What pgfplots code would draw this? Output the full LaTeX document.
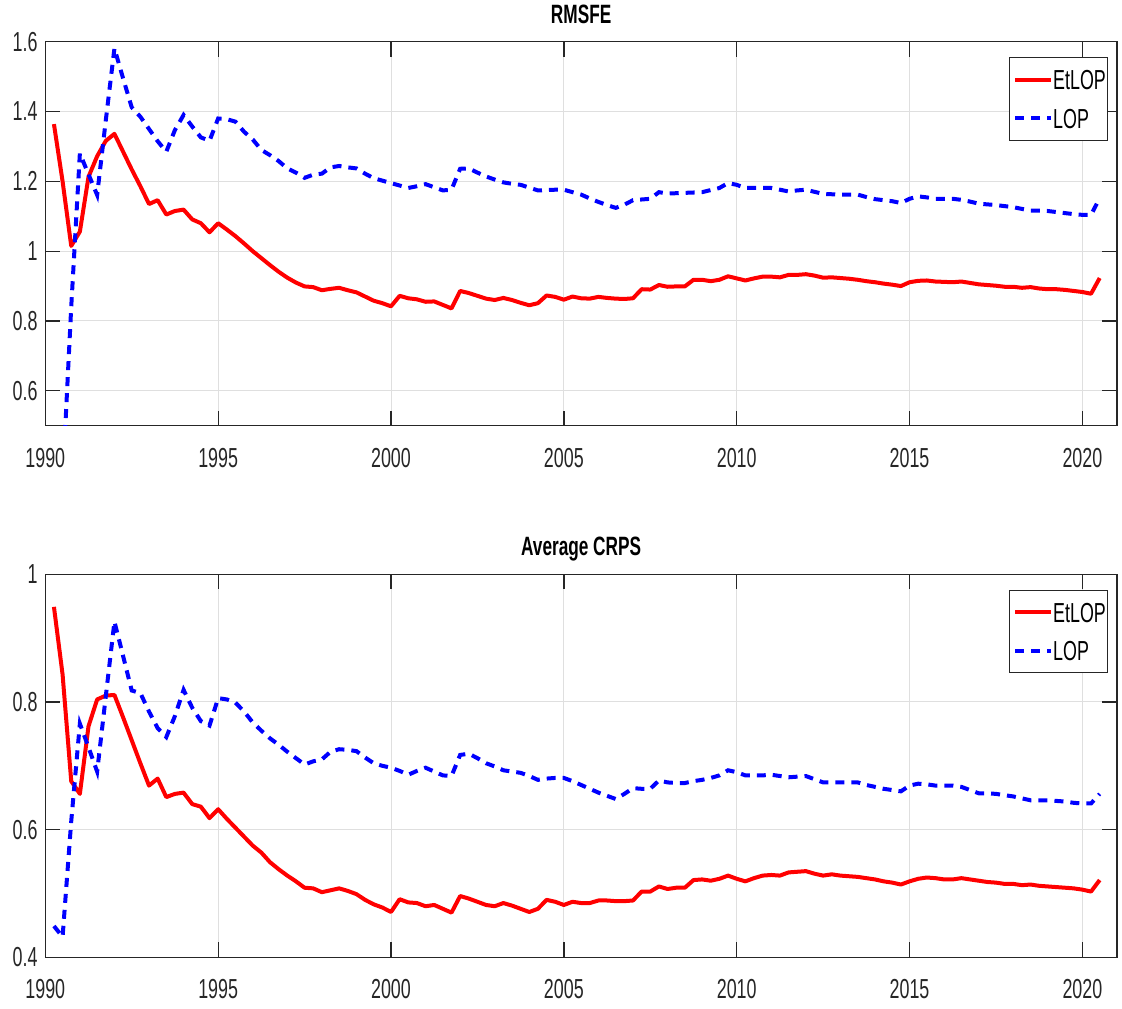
\documentclass[border=0pt]{standalone}
\usepackage{fontspec}
\setmainfont[FakeStretch=0.65]{Liberation Sans}
\usepackage{pgfplots}
\usepackage{pgfplotstable}
\pgfplotsset{compat=1.18}

\definecolor{axgray}{RGB}{38,38,38}
\definecolor{gridgray}{RGB}{223,223,223}

% quarterly scores: t, RMSFE EtLOP, RMSFE LOP, CRPS EtLOP, CRPS LOP
\pgfplotstableread{
t re rl ce cl
1990.25 1.364 0.300 0.949 0.449
1990.50 1.200 0.340 0.843 0.432
1990.75 1.015 0.840 0.676 0.613
1991.00 1.056 1.280 0.656 0.766
1991.25 1.213 1.220 0.762 0.729
1991.50 1.272 1.161 0.804 0.691
1991.75 1.316 1.375 0.810 0.809
1992.00 1.336 1.581 0.811 0.926
1992.25 1.285 1.495 0.776 0.872
1992.50 1.234 1.412 0.740 0.818
1992.75 1.186 1.385 0.704 0.814
1993.00 1.135 1.350 0.669 0.785
1993.25 1.146 1.315 0.680 0.759
1993.50 1.105 1.285 0.651 0.745
1993.75 1.115 1.347 0.656 0.778
1994.00 1.119 1.390 0.658 0.819
1994.25 1.091 1.357 0.640 0.791
1994.50 1.080 1.326 0.636 0.770
1994.75 1.054 1.316 0.618 0.763
1995.00 1.080 1.380 0.632 0.806
1995.25 1.062 1.378 0.617 0.804
1995.50 1.043 1.371 0.603 0.799
1995.75 1.022 1.342 0.589 0.785
1996.00 1.000 1.320 0.575 0.768
1996.25 0.980 1.290 0.564 0.755
1996.50 0.960 1.275 0.549 0.743
1996.75 0.941 1.258 0.538 0.733
1997.00 0.924 1.237 0.528 0.722
1997.25 0.910 1.225 0.519 0.712
1997.50 0.899 1.210 0.509 0.702
1997.75 0.897 1.219 0.508 0.707
1998.00 0.888 1.222 0.502 0.710
1998.25 0.892 1.240 0.505 0.722
1998.50 0.895 1.244 0.508 0.726
1998.75 0.888 1.240 0.504 0.725
1999.00 0.882 1.237 0.499 0.723
1999.25 0.870 1.222 0.490 0.713
1999.50 0.858 1.209 0.483 0.704
1999.75 0.851 1.202 0.478 0.700
2000.00 0.842 1.195 0.471 0.697
2000.25 0.872 1.188 0.491 0.692
2000.50 0.865 1.181 0.486 0.686
2000.75 0.862 1.186 0.485 0.692
2001.00 0.855 1.192 0.480 0.697
2001.25 0.856 1.183 0.482 0.691
2001.50 0.846 1.174 0.476 0.685
2001.75 0.836 1.176 0.470 0.684
2002.00 0.886 1.236 0.496 0.717
2002.25 0.880 1.237 0.492 0.719
2002.50 0.872 1.225 0.487 0.712
2002.75 0.864 1.214 0.482 0.704
2003.00 0.860 1.205 0.480 0.699
2003.25 0.866 1.197 0.485 0.693
2003.50 0.860 1.193 0.481 0.691
2003.75 0.852 1.190 0.476 0.689
2004.00 0.845 1.182 0.471 0.684
2004.25 0.851 1.174 0.476 0.678
2004.50 0.873 1.175 0.490 0.680
2004.75 0.869 1.176 0.487 0.681
2005.00 0.861 1.176 0.482 0.681
2005.25 0.870 1.169 0.487 0.676
2005.50 0.865 1.162 0.485 0.670
2005.75 0.864 1.151 0.485 0.664
2006.00 0.869 1.141 0.489 0.658
2006.25 0.866 1.132 0.489 0.653
2006.50 0.864 1.124 0.488 0.648
2006.75 0.863 1.133 0.488 0.656
2007.00 0.865 1.146 0.489 0.665
2007.25 0.891 1.148 0.503 0.664
2007.50 0.890 1.150 0.503 0.664
2007.75 0.903 1.169 0.511 0.677
2008.00 0.898 1.165 0.507 0.674
2008.25 0.899 1.166 0.509 0.673
2008.50 0.899 1.167 0.509 0.673
2008.75 0.918 1.168 0.521 0.676
2009.00 0.918 1.169 0.522 0.678
2009.25 0.914 1.175 0.520 0.681
2009.50 0.918 1.181 0.523 0.685
2009.75 0.928 1.195 0.528 0.693
2010.00 0.922 1.190 0.523 0.690
2010.25 0.916 1.181 0.519 0.685
2010.50 0.922 1.181 0.524 0.685
2010.75 0.927 1.181 0.528 0.685
2011.00 0.927 1.181 0.529 0.686
2011.25 0.925 1.176 0.528 0.684
2011.50 0.932 1.171 0.533 0.682
2011.75 0.932 1.174 0.534 0.683
2012.00 0.934 1.176 0.535 0.684
2012.25 0.930 1.170 0.531 0.679
2012.50 0.924 1.164 0.528 0.674
2012.75 0.925 1.163 0.530 0.674
2013.00 0.923 1.162 0.528 0.674
2013.25 0.921 1.162 0.527 0.674
2013.50 0.918 1.162 0.526 0.674
2013.75 0.914 1.155 0.524 0.670
2014.00 0.911 1.149 0.522 0.667
2014.25 0.907 1.146 0.519 0.664
2014.50 0.904 1.143 0.517 0.662
2014.75 0.900 1.138 0.514 0.660
2015.00 0.911 1.150 0.519 0.669
2015.25 0.915 1.157 0.523 0.672
2015.50 0.916 1.154 0.525 0.671
2015.75 0.913 1.150 0.524 0.669
2016.00 0.912 1.150 0.522 0.669
2016.25 0.911 1.150 0.522 0.669
2016.50 0.913 1.147 0.524 0.667
2016.75 0.909 1.142 0.522 0.662
2017.00 0.905 1.136 0.520 0.657
2017.25 0.903 1.134 0.518 0.657
2017.50 0.901 1.132 0.517 0.656
2017.75 0.898 1.129 0.515 0.654
2018.00 0.898 1.126 0.515 0.652
2018.25 0.895 1.121 0.513 0.649
2018.50 0.897 1.116 0.514 0.646
2018.75 0.893 1.116 0.512 0.646
2019.00 0.891 1.115 0.511 0.646
2019.25 0.891 1.112 0.510 0.645
2019.50 0.889 1.109 0.509 0.644
2019.75 0.886 1.106 0.508 0.642
2020.00 0.883 1.104 0.506 0.641
2020.25 0.878 1.104 0.503 0.641
2020.50 0.923 1.152 0.521 0.656
}\scores

\pgfplotsset{
  panel/.style={
    scale only axis,
    width=1071.7pt,
    xmin=1990, xmax=2021,
    xtick={1990,1995,2000,2005,2010,2015,2020},
    grid=major,
    major grid style={gridgray, line width=1pt},
    axis line style={axgray, line width=1.3pt},
    tick align=inside,
    major tick length=15pt,
    tick style={axgray, line width=1.3pt},
    ticklabel style={font=\fontsize{27.5}{30}\selectfont, text=axgray, inner sep=0pt},
    xticklabel style={yshift=-22pt},
    yticklabel style={xshift=-7.6pt},
    /pgf/number format/assume math mode=true,
    /pgf/number format/1000 sep={},
    title style={font=\bfseries\fontsize{26.5}{30}\selectfont, at={(0.5,1)}, anchor=base, yshift=12.7pt},
    legend style={at={(1,1)}, anchor=north east, xshift=-9.3pt, yshift=-15.6pt,
      draw=axgray, line width=0.9pt, font=\fontsize{27.5}{30}\selectfont,
      inner xsep=4pt, inner ysep=12pt, row sep=19pt,
      nodes={inner sep=0pt, text height=19.7pt, text depth=0pt, text width=50pt}},
    legend cell align=left,
    legend image code/.code={\draw[#1] (0pt,0pt) -- (36pt,0pt);},
  },
  etlop/.style={color=red, line width=4pt, line join=round},
  lop/.style={color=blue, line width=4pt, dash pattern=on 9pt off 7pt},
}

\begin{document}
\begin{tikzpicture}
\useasboundingbox (0pt,0pt) rectangle (1122pt,-1009pt);

\begin{axis}[panel,
  at={(45.3pt,-425.7pt)}, anchor=south west,
  height=384pt,
  ymin=0.5, ymax=1.6,
  ytick={0.6,0.8,1,1.2,1.4,1.6},
  title={RMSFE}]
\addplot[etlop] table[x=t, y=re] {\scores};
\addplot[lop] table[x=t, y=rl] {\scores};
\legend{EtLOP, LOP}
\end{axis}

\begin{axis}[panel,
  at={(45.3pt,-957.3pt)}, anchor=south west,
  height=383pt,
  ymin=0.4, ymax=1,
  ytick={0.4,0.6,0.8,1},
  title={Average CRPS}]
\addplot[etlop] table[x=t, y=ce] {\scores};
\addplot[lop] table[x=t, y=cl] {\scores};
\legend{EtLOP, LOP}
\end{axis}
\end{tikzpicture}
\end{document}
